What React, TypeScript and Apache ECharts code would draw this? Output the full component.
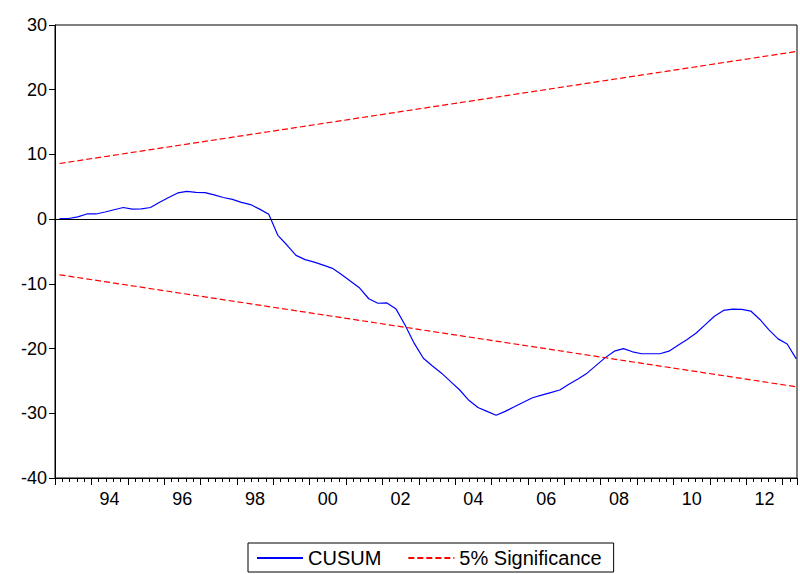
import { useEffect, useRef } from 'react';
import * as echarts from 'echarts';

// quarterly CUSUM, first point 1993 Q1 (plotted mid-quarter)
const startYear = 1993;
const cusum = [
  0.1, 0.1, 0.35, 0.8, 0.8, 1.1, 1.45, 1.8, 1.55, 1.6,
  1.8, 2.6, 3.35, 4.05, 4.3, 4.15, 4.1, 3.75, 3.35, 3.05,
  2.6, 2.25, 1.55, 0.75, -2.5, -4.0, -5.6, -6.25, -6.65, -7.1,
  -7.6, -8.55, -9.6, -10.65, -12.3, -13.0, -12.95, -13.9, -16.4, -19.2,
  -21.5, -22.7, -23.8, -25.1, -26.4, -28.0, -29.1, -29.7, -30.3, -29.7,
  -29.0, -28.3, -27.6, -27.2, -26.8, -26.4, -25.5, -24.7, -23.8, -22.6,
  -21.4, -20.4, -20.0, -20.5, -20.8, -20.8, -20.8, -20.4, -19.5, -18.6,
  -17.6, -16.3, -15.0, -14.1, -13.9, -13.95, -14.2, -15.5, -17.1, -18.5,
  -19.3, -21.6,
];
const upperBand = [8.6, 25.9];
const lowerBand = [-8.6, -25.9];

const font = "'Liberation Sans', Arial, sans-serif";

export default function App() {
  const chartRef = useRef<HTMLDivElement>(null);

  useEffect(() => {
    document.body.style.margin = '0';
    if (!chartRef.current) return;
    const chart = echarts.init(chartRef.current, undefined, { renderer: 'svg' });

    const t = (k: number) => startYear + 0.125 + 0.25 * k;
    const last = cusum.length - 1;
    const cusumData = cusum.map((v, k) => [t(k), v]);
    const upperData = [[t(0), upperBand[0]], [t(last), upperBand[1]]];
    const lowerData = [[t(0), lowerBand[0]], [t(last), lowerBand[1]]];
    const xMax = t(last) + 0.02;

    chart.setOption({
      animation: false,
      textStyle: { fontFamily: font },
      grid: { left: 55, right: 1, top: 25, bottom: 96, show: true, borderColor: '#000', borderWidth: 1 },
      legend: {
        bottom: 2,
        left: 248,
        data: ['CUSUM', '5% Significance'],
        borderColor: '#000',
        borderWidth: 1,
        borderRadius: 0,
        padding: [5, 12, 4, 8],
        itemWidth: 46,
        itemHeight: 12,
        itemGap: 26,
        itemStyle: { opacity: 0 },
        textStyle: { fontSize: 20, color: '#000', fontFamily: font },
      },
      xAxis: [
        {
          type: 'value',
          min: startYear,
          max: xMax,
          interval: 1,
          axisLine: { show: true, onZero: false, lineStyle: { color: '#000' } },
          axisTick: { show: true, length: 7, lineStyle: { color: '#000' } },
          minorTick: { show: true, splitNumber: 5, length: 4, lineStyle: { color: '#000' } },
          axisLabel: { show: false },
          splitLine: { show: false },
        },
        {
          type: 'value',
          min: 0,
          max: xMax - startYear,
          interval: 0.5,
          position: 'bottom',
          axisLine: { show: false },
          axisTick: { show: false },
          splitLine: { show: false },
          axisLabel: {
            margin: 12,
            fontSize: 18,
            color: '#000',
            fontFamily: font,
            formatter: (v: number) => {
              const y = startYear + v - 0.5;
              if (Math.abs(y - Math.round(y)) > 1e-6) return '';
              const yr = Math.round(y);
              return yr % 2 === 0 ? String(yr).slice(2) : '';
            },
          },
        },
      ],
      yAxis: {
        type: 'value',
        min: -40,
        max: 30,
        interval: 10,
        axisLine: { show: true, onZero: false, lineStyle: { color: '#000' } },
        axisTick: { show: true, length: 6, lineStyle: { color: '#000' } },
        axisLabel: { fontSize: 18, color: '#000', fontFamily: font, margin: 8 },
        splitLine: { show: false },
      },
      series: [
        {
          name: 'CUSUM',
          type: 'line',
          data: cusumData,
          symbol: 'none',
          lineStyle: { color: '#0000ff', width: 1.2 },
          itemStyle: { color: '#0000ff' },
          markLine: {
            silent: true,
            symbol: 'none',
            label: { show: false },
            lineStyle: { color: '#000', type: 'solid', width: 1.2 },
            data: [{ yAxis: 0 }],
          },
        },
        {
          name: '5% Significance',
          type: 'line',
          data: upperData,
          symbol: 'none',
          lineStyle: { color: '#ff0000', width: 1.2, type: [6, 3] },
          itemStyle: { color: '#ff0000' },
        },
        {
          name: '5% Significance',
          type: 'line',
          data: lowerData,
          symbol: 'none',
          lineStyle: { color: '#ff0000', width: 1.2, type: [6, 3] },
          itemStyle: { color: '#ff0000' },
        },
      ],
    });

    return () => chart.dispose();
  }, []);

  return <div ref={chartRef} style={{ width: 800, height: 574 }} />;
}
